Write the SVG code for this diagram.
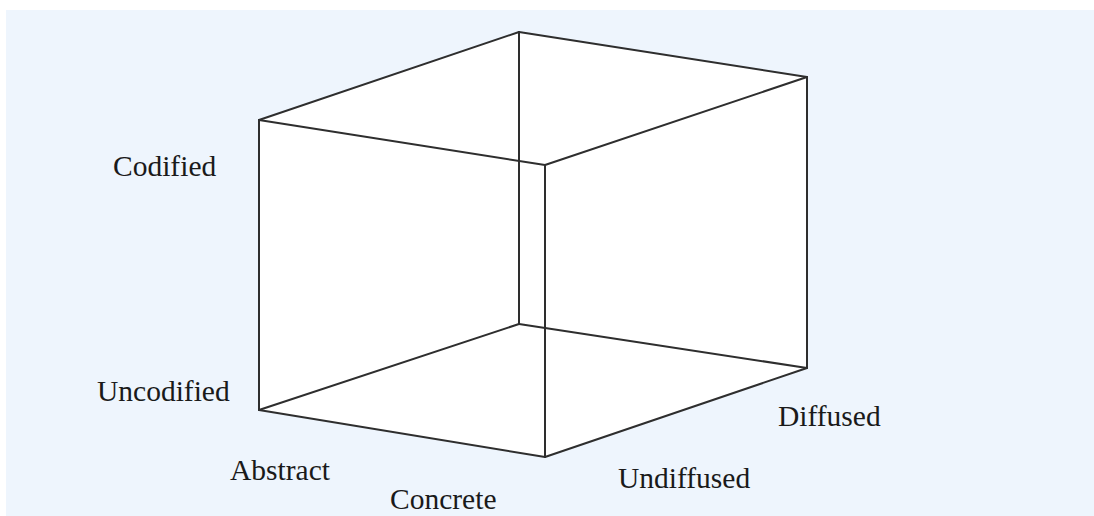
<svg xmlns="http://www.w3.org/2000/svg" width="1094" height="516" viewBox="0 0 1094 516">
  <style>
    .edge { stroke: #2e2e2e; stroke-width: 2; fill: none; stroke-linecap: round; stroke-linejoin: round; }
    .lbl { font-size: 29.5px; fill: #1a1a1a; }
  </style>
  <rect x="0" y="0" width="1094" height="516" fill="#ffffff"/>
  <rect x="6" y="10" width="1088" height="506" fill="#eef5fd"/>
  <g id="cube">
    <polygon points="259,120 519,32 807,77 807,368 545,457 259,410" fill="#ffffff"/>
  </g>
  <g id="connectors">
    <line class="edge" x1="259" y1="120" x2="545" y2="165"/>
    <line class="edge" x1="545" y1="165" x2="807" y2="77"/>
    <line class="edge" x1="807" y1="77" x2="519" y2="32"/>
    <line class="edge" x1="519" y1="32" x2="259" y2="120"/>
    <line class="edge" x1="259" y1="120" x2="259" y2="410"/>
    <line class="edge" x1="545" y1="165" x2="545" y2="457"/>
    <line class="edge" x1="807" y1="77" x2="807" y2="368"/>
    <line class="edge" x1="519" y1="32" x2="519" y2="324"/>
    <line class="edge" x1="259" y1="410" x2="545" y2="457"/>
    <line class="edge" x1="545" y1="457" x2="807" y2="368"/>
    <line class="edge" x1="807" y1="368" x2="519" y2="324"/>
    <line class="edge" x1="519" y1="324" x2="259" y2="410"/>
  </g>
  <g font-family="'Liberation Serif', 'Times New Roman', 'DejaVu Serif', serif">
    <g id="label-codified"><text class="lbl" x="113" y="176">Codified</text></g>
    <g id="label-uncodified"><text class="lbl" x="97" y="401">Uncodified</text></g>
    <g id="label-abstract"><text class="lbl" x="230" y="480">Abstract</text></g>
    <g id="label-concrete"><text class="lbl" x="390" y="509">Concrete</text></g>
    <g id="label-undiffused"><text class="lbl" x="618" y="488">Undiffused</text></g>
    <g id="label-diffused"><text class="lbl" x="778" y="426">Diffused</text></g>
  </g>
</svg>
